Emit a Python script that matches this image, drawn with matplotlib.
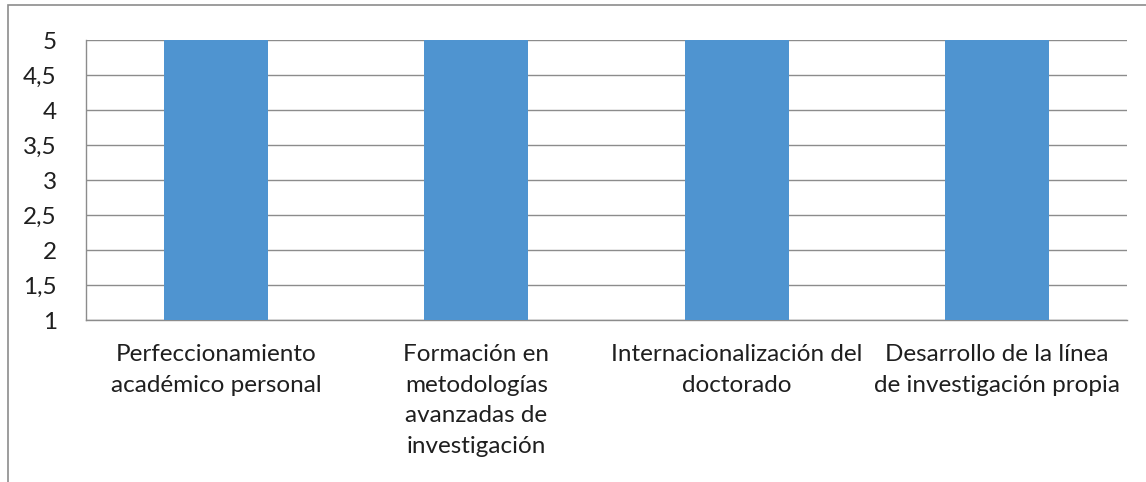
import matplotlib.pyplot as plt
from matplotlib.patches import Rectangle

plt.rcParams['font.family'] = ['Lato', 'DejaVu Sans']

categorias = [
    'Perfeccionamiento\nacadémico personal',
    'Formación en\nmetodologías\navanzadas de\ninvestigación',
    'Internacionalización del\ndoctorado',
    'Desarrollo de la línea\nde investigación propia',
]
valores = [5, 5, 5, 5]
yticks = [1, 1.5, 2, 2.5, 3, 3.5, 4, 4.5, 5]
ytick_labels = ['1', '1,5', '2', '2,5', '3', '3,5', '4', '4,5', '5']

fig = plt.figure(figsize=(11.46, 4.82), dpi=100)
ax = fig.add_axes([0.075, 0.336, 0.9085, 0.581])

# marco exterior del gráfico
fig.patches.append(Rectangle((8 / 1146, -0.1), 1.2, 1 - 5 / 482 + 0.1,
                             transform=fig.transFigure, fill=False,
                             edgecolor='#8c8c8c', linewidth=1.2))

x = range(len(categorias))
ax.bar(x, [v - 1 for v in valores], bottom=1, width=0.4, color='#4f94d0', zorder=3)

ax.set_xlim(-0.5, len(categorias) - 0.5)
ax.set_ylim(1, 5)
ax.set_yticks(yticks)
ax.set_yticklabels(ytick_labels, fontsize=17.5)
ax.set_xticks(list(x))
ax.set_xticklabels(categorias, fontsize=17.5, linespacing=1.58)
ax.tick_params(axis='x', length=0, pad=17, colors='#1f1f1f')
ax.tick_params(axis='y', length=0, pad=21, colors='#1f1f1f')

ax.grid(axis='y', color='#8c8c8c', linewidth=1, zorder=0)
for lado in ['top', 'right']:
    ax.spines[lado].set_visible(False)
for lado in ['left', 'bottom']:
    ax.spines[lado].set_color('#8c8c8c')
    ax.spines[lado].set_linewidth(1)

fig.savefig('out.png', dpi=100)
